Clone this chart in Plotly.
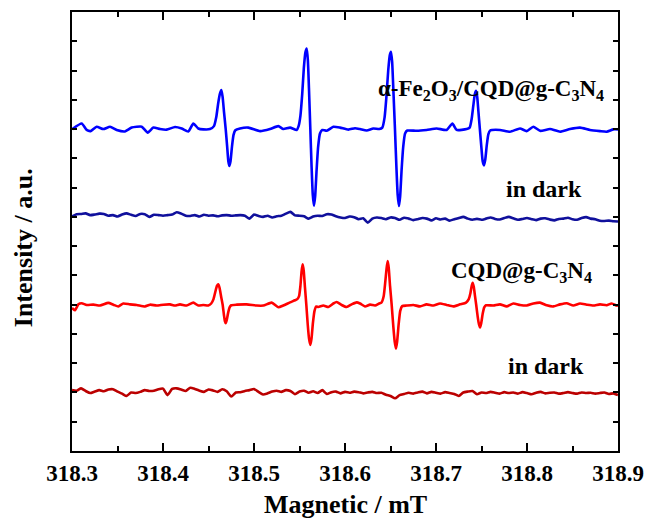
import plotly.graph_objects as go

# ---------------- data (field in mT, intensity in a.u.) ----------------
# stacking offsets of the four spectra (a.u.)
offset_fe_light = 11.0
offset_fe_dark = 8.06
offset_cqd_light = 4.99
offset_cqd_dark = 2.08

# alpha-Fe2O3/CQD@g-C3N4 under light: baseline stretches
fe_light_base_field = [
    318.3004, 318.3106, 318.3161, 318.3205, 318.3271, 318.3344, 318.3418, 318.3491, 318.3582, 318.3656,
    318.3766, 318.3832, 318.3894, 318.3967, 318.4040, 318.4132, 318.4205, 318.4278, 318.4333, 318.4388,
    318.4443, 318.4516,
    318.4846, 318.4938, 318.5066, 318.5176, 318.5267, 318.5322, 318.5396, 318.5469,
    318.5799, 318.5872, 318.5945, 318.6037, 318.6110, 318.6165, 318.6238, 318.6311, 318.6377,
    318.6788, 318.6897, 318.7007, 318.7117, 318.7180, 318.7227, 318.7337,
    318.7703, 318.7813, 318.7923, 318.7996, 318.8069, 318.8143, 318.8253, 318.8363, 318.8473, 318.8582,
    318.8692, 318.8802, 318.8875, 318.8948, 318.9000,
]
fe_light_base_signal = [
    0.00, 0.19, -0.03, -0.07, 0.08, 0.00, 0.08, -0.03, -0.08, 0.05,
    0.08, -0.12, 0.05, 0.00, -0.02, 0.07, 0.02, -0.08, 0.19, 0.02,
    -0.01, 0.00,
    0.02, 0.05, -0.07, 0.00, 0.10, 0.00, 0.05, -0.03,
    -0.06, 0.08, 0.05, -0.02, 0.03, 0.00, -0.05, 0.02, 0.00,
    -0.06, -0.03, 0.02, -0.03, 0.19, -0.03, 0.00,
    -0.03, -0.09, 0.02, -0.07, 0.08, -0.06, 0.00, -0.09, 0.00, 0.05,
    -0.03, -0.07, -0.09, -0.01, -0.01,
]
# alpha-Fe2O3/CQD@g-C3N4 under light: the four DMPO-OH lines
fe_light_peak_field = [
    318.4560, 318.4585, 318.4605, 318.4625, 318.4641, 318.4655, 318.4670, 318.4689, 318.4705, 318.4718,
    318.4729, 318.4742, 318.4758, 318.4775, 318.4795,
    318.5490, 318.5510, 318.5530, 318.5548, 318.5565, 318.5579, 318.5592, 318.5605, 318.5619, 318.5633,
    318.5646, 318.5659, 318.5672, 318.5688, 318.5705, 318.5725, 318.5750,
    318.6410, 318.6435, 318.6455, 318.6475, 318.6492, 318.6505, 318.6518, 318.6532, 318.6549, 318.6565,
    318.6579, 318.6593, 318.6606, 318.6622, 318.6640, 318.6660, 318.6685,
    318.7370, 318.7392, 318.7410, 318.7427, 318.7440, 318.7453, 318.7466, 318.7482, 318.7498, 318.7513,
    318.7527, 318.7541, 318.7558, 318.7575, 318.7595,
]
fe_light_peak_signal = [
    0.10, 0.40, 0.85, 1.20, 1.33, 1.10, 0.60, 0.00, -0.60, -1.10,
    -1.26, -1.10, -0.60, -0.20, -0.04,
    0.10, 0.45, 1.20, 2.10, 2.62, 2.75, 2.35, 1.30, 0.00, -1.30,
    -2.25, -2.62, -2.30, -1.40, -0.60, -0.15, -0.03,
    0.05, 0.40, 1.10, 2.00, 2.52, 2.64, 2.30, 1.30, 0.00, -1.30,
    -2.25, -2.63, -2.30, -1.40, -0.60, -0.15, -0.05,
    0.05, 0.35, 0.80, 1.20, 1.31, 1.10, 0.60, 0.00, -0.60, -1.10,
    -1.24, -1.05, -0.55, -0.18, -0.05,
]

# uniform sweep used for the two dark spectra
dark_field = [round(318.300 + 0.005 * i, 3) for i in range(121)]

fe_dark_signal = [
    -0.05, 0.03, 0.04, 0.06, 0.00, 0.02, 0.05, 0.04, -0.02, 0.00,
    -0.05, 0.02, 0.06, 0.01, -0.03, 0.04, 0.03, -0.06, 0.01, 0.00,
    -0.02, 0.00, 0.02, 0.10, 0.05, -0.02, -0.03, 0.00, -0.05, 0.01,
    -0.02, -0.01, -0.04, -0.01, 0.00, -0.02, -0.01, 0.00, -0.02, -0.12,
    0.02, -0.03, -0.06, -0.02, -0.08, -0.04, -0.02, 0.05, 0.11, -0.01,
    -0.02, -0.04, -0.12, -0.05, -0.02, -0.03, 0.03, 0.02, -0.04, -0.08,
    -0.10, -0.05, -0.07, -0.14, -0.11, -0.26, -0.12, -0.08, -0.10, -0.14,
    -0.08, -0.10, -0.16, -0.09, -0.12, -0.17, -0.14, -0.10, -0.12, -0.18,
    -0.11, -0.15, -0.12, -0.19, -0.14, -0.10, -0.06, -0.12, -0.16, -0.13,
    -0.16, -0.12, -0.08, -0.13, -0.15, -0.10, -0.06, -0.11, -0.16, -0.13,
    -0.10, -0.14, -0.17, -0.12, -0.11, -0.15, -0.18, -0.13, -0.12, -0.09,
    -0.14, -0.16, -0.10, -0.07, -0.12, -0.14, -0.19, -0.20, -0.19, -0.21,
    -0.22,
]

# CQD@g-C3N4 under light: baseline stretches
cqd_light_base_field = [
    318.3000, 318.3033, 318.3070, 318.3106, 318.3161, 318.3234, 318.3308, 318.3399, 318.3454, 318.3509,
    318.3564, 318.3637, 318.3711, 318.3802, 318.3857, 318.3930, 318.4004, 318.4077, 318.4132, 318.4187,
    318.4260, 318.4333, 318.4388, 318.4443, 318.4498,
    318.4810, 318.4919, 318.5029, 318.5103, 318.5194, 318.5267, 318.5322, 318.5396, 318.5451,
    318.5707, 318.5762, 318.5817, 318.5872, 318.5908, 318.5963, 318.6018, 318.6073, 318.6128, 318.6165,
    318.6220, 318.6275, 318.6330, 318.6375,
    318.6678, 318.6751, 318.6824, 318.6897, 318.6971, 318.7044, 318.7117, 318.7190, 318.7264,
    318.7630, 318.7703, 318.7777, 318.7850, 318.7923, 318.7996, 318.8070, 318.8143, 318.8216, 318.8289,
    318.8363, 318.8436, 318.8509, 318.8582, 318.8656, 318.8729, 318.8802, 318.8875, 318.8930, 318.8985,
    318.9000,
]
cqd_light_base_signal = [
    -0.10, -0.18, 0.02, 0.06, 0.00, 0.01, -0.02, 0.07, 0.01, -0.05,
    0.05, 0.02, 0.00, -0.05, 0.01, -0.02, 0.01, 0.02, -0.02, 0.02,
    -0.02, 0.08, -0.02, 0.00, -0.02,
    0.01, 0.02, -0.02, -0.02, 0.08, -0.08, -0.02, 0.09, 0.16,
    -0.07, -0.02, -0.07, 0.05, 0.10, 0.00, -0.07, 0.02, 0.09, 0.05,
    -0.05, 0.01, -0.02, 0.05,
    -0.02, 0.00, -0.05, 0.02, -0.02, 0.05, 0.00, -0.05, 0.02,
    -0.02, 0.02, -0.05, 0.05, 0.00, -0.02, 0.05, 0.08, -0.01, -0.05,
    0.02, 0.06, -0.02, 0.05, 0.01, -0.02, 0.02, -0.01, 0.05, -0.02,
    -0.03,
]
# CQD@g-C3N4 under light: the four DMPO-OH lines
cqd_light_peak_field = [
    318.4530, 318.4555, 318.4575, 318.4593, 318.4608, 318.4622, 318.4638, 318.4656, 318.4670, 318.4680,
    318.4689, 318.4700, 318.4715, 318.4732, 318.4750,
    318.5476, 318.5495, 318.5510, 318.5523, 318.5535, 318.5547, 318.5560, 318.5575, 318.5590, 318.5605,
    318.5619, 318.5632, 318.5648, 318.5665, 318.5685,
    318.6400, 318.6425, 318.6443, 318.6457, 318.6469, 318.6481, 318.6495, 318.6513, 318.6530, 318.6546,
    318.6560, 318.6573, 318.6590, 318.6607, 318.6628,
    318.7330, 318.7360, 318.7378, 318.7392, 318.7403, 318.7415, 318.7428, 318.7442, 318.7458, 318.7472,
    318.7484, 318.7497, 318.7513, 318.7530, 318.7550,
]
cqd_light_peak_signal = [
    0.05, 0.20, 0.45, 0.65, 0.71, 0.58, 0.30, 0.00, -0.35, -0.55,
    -0.62, -0.52, -0.28, -0.08, -0.01,
    0.20, 0.30, 0.65, 1.15, 1.39, 1.15, 0.60, 0.00, -0.65, -1.15,
    -1.37, -1.15, -0.60, -0.20, -0.05,
    0.08, 0.30, 0.80, 1.25, 1.50, 1.25, 0.65, 0.00, -0.70, -1.25,
    -1.49, -1.25, -0.65, -0.20, -0.04,
    0.08, 0.20, 0.40, 0.65, 0.76, 0.62, 0.32, 0.00, -0.40, -0.66,
    -0.77, -0.62, -0.30, -0.08, -0.01,
]

cqd_dark_signal = [
    0.00, -0.02, 0.06, -0.03, -0.10, -0.05, 0.00, -0.04, 0.02, 0.03,
    -0.05, -0.12, -0.20, -0.08, -0.10, -0.06, 0.00, -0.03, -0.02, 0.03,
    0.05, -0.17, 0.04, 0.06, 0.02, -0.03, 0.08, 0.04, -0.02, -0.06,
    0.02, -0.01, -0.06, 0.03, -0.04, -0.22, -0.08, -0.07, -0.03, 0.00,
    0.04, -0.06, -0.15, -0.11, -0.05, -0.02, -0.06, 0.00, -0.03, -0.14,
    -0.05, -0.02, -0.09, -0.04, -0.10, 0.00, -0.13, -0.07, -0.05, -0.11,
    -0.06, -0.09, -0.05, -0.07, -0.11, -0.08, -0.06, -0.10, -0.09, -0.16,
    -0.20, -0.28, -0.17, -0.13, -0.09, -0.12, -0.08, -0.05, -0.11, -0.06,
    -0.09, -0.12, -0.07, -0.10, -0.13, -0.20, -0.08, -0.05, -0.03, -0.14,
    -0.08, -0.10, -0.06, -0.09, -0.12, -0.07, -0.10, -0.08, -0.12, -0.07,
    -0.10, -0.14, -0.09, -0.06, -0.11, -0.09, -0.08, -0.12, -0.10, -0.07,
    -0.10, -0.12, -0.08, -0.10, -0.09, -0.12, -0.10, -0.08, -0.13, -0.11,
    -0.17,
]

x_tick_values = [318.3, 318.4, 318.5, 318.6, 318.7, 318.8, 318.9]
x_tick_labels = ["318.3", "318.4", "318.5", "318.6", "318.7", "318.8", "318.9"]

label_fe = "α-Fe<sub>2</sub>O<sub>3</sub>/CQD@g-C<sub>3</sub>N<sub>4</sub>"
label_cqd = "CQD@g-C<sub>3</sub>N<sub>4</sub>"
label_dark = "in dark"
x_title = "Magnetic / mT"
y_title = "Intensity / a.u."


def merge(f1, s1, f2, s2):
    pts = sorted(zip(f1 + f2, s1 + s2))
    return [p[0] for p in pts], [p[1] for p in pts]


fe_light_field, fe_light_signal = merge(fe_light_base_field, fe_light_base_signal,
                                        fe_light_peak_field, fe_light_peak_signal)
cqd_light_field, cqd_light_signal = merge(cqd_light_base_field, cqd_light_base_signal,
                                          cqd_light_peak_field, cqd_light_peak_signal)

# ---------------- figure ----------------
FONT = "Liberation Serif"

traces = [
    (fe_light_field, fe_light_signal, offset_fe_light, "#0000ff"),
    (dark_field, fe_dark_signal, offset_fe_dark, "#10109c"),
    (cqd_light_field, cqd_light_signal, offset_cqd_light, "#ff0000"),
    (dark_field, cqd_dark_signal, offset_cqd_dark, "#bb0000"),
]

fig = go.Figure()
for xs, ys, off, col in traces:
    fig.add_trace(go.Scatter(
        x=xs, y=[off + v for v in ys], mode="lines",
        line=dict(color=col, width=2.6, shape="spline", smoothing=0.5),
        showlegend=False, hoverinfo="skip",
    ))

ann_font = dict(family=FONT, size=23, color="black", weight="bold")
fig.add_annotation(x=318.7600, y=12.35, text=label_fe, showarrow=False,
                   xanchor="center", yanchor="middle", font=ann_font)
fig.add_annotation(x=318.8187, y=8.95, text=label_dark, showarrow=False,
                   xanchor="center", yanchor="middle", font=dict(ann_font, size=24))
fig.add_annotation(x=318.7942, y=6.1, text=label_cqd, showarrow=False,
                   xanchor="center", yanchor="middle", font=ann_font)
fig.add_annotation(x=318.8214, y=2.9, text=label_dark, showarrow=False,
                   xanchor="center", yanchor="middle", font=dict(ann_font, size=24))

title_font = dict(family=FONT, size=26, color="black", weight="bold")
fig.add_annotation(xref="paper", yref="paper", x=0.5, y=-0.123, text=x_title,
                   showarrow=False, xanchor="center", yanchor="middle", font=title_font)
fig.add_annotation(xref="paper", yref="paper", x=-0.0897, y=0.462, text=y_title,
                   showarrow=False, xanchor="center", yanchor="middle", textangle=-90,
                   font=title_font)

fig.update_layout(
    width=647, height=522,
    margin=dict(l=72, r=29, t=12, b=71, autoexpand=False),
    paper_bgcolor="white", plot_bgcolor="white",
    font=dict(family=FONT, color="black"),
)
fig.update_xaxes(
    range=[318.3, 318.9], showgrid=False, zeroline=False, automargin=False,
    showline=True, linecolor="black", linewidth=2, mirror="ticks",
    ticks="inside", ticklen=8, tickwidth=1.5, tickcolor="black",
    tickvals=x_tick_values, ticktext=x_tick_labels,
    tickfont=dict(family=FONT, size=23, color="black", weight="bold"),
    minor=dict(ticks="inside", ticklen=5, tickwidth=1.5, tickcolor="black", dtick=0.05, showgrid=False),
)
fig.update_yaxes(
    range=[0, 15], showgrid=False, zeroline=False, automargin=False,
    showline=True, linecolor="black", linewidth=2, mirror="ticks",
    ticks="inside", ticklen=5, tickwidth=1.5, tickcolor="black",
    dtick=1, showticklabels=False,
)

fig.write_html("out.html")
